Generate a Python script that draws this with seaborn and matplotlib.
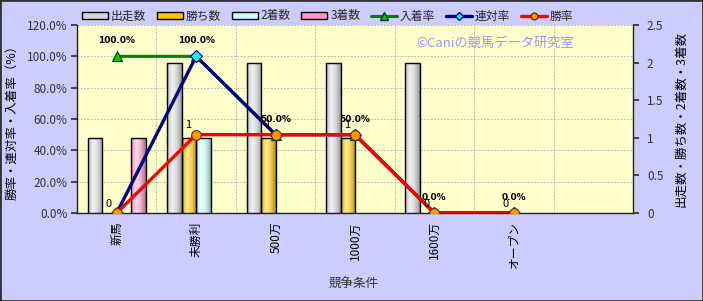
import numpy as np
import pandas as pd
import matplotlib
matplotlib.use("Agg")
import matplotlib.pyplot as plt
import seaborn as sns
from matplotlib.colors import to_rgb
from matplotlib.patches import Patch, Rectangle
from matplotlib.lines import Line2D

# ---- data ----
categories = ['新馬', '未勝利', '500万', '1000万', '1600万', 'オープン']
starts = [1, 2, 2, 2, 2, 0]
wins = [0, 1, 1, 1, 0, 0]
seconds = [0, 1, 0, 0, 0, 0]
thirds = [1, 0, 0, 0, 0, 0]
place_rate = [100, 100, 50, 50, 0, 0]
rentai_rate = [0, 100, 50, 50, 0, 0]
win_rate = [0, 50, 50, 50, 0, 0]
bar_series = ['出走数', '勝ち数', '2着数', '3着数']
left_ticks = [0, 20, 40, 60, 80, 100, 120]
right_ticks = [0, 0.5, 1, 1.5, 2, 2.5]

sns.set_theme(style="white")
plt.rcParams['font.family'] = ['Noto Sans CJK JP', 'DejaVu Sans']

bar_colors = ['#d8d8d8', '#ffc800', '#c8ffff', '#ff99cc']

fig = plt.figure(figsize=(7.03, 3.01), dpi=100)
fig.patch.set_facecolor('#ccccff')
ax = fig.add_axes([77/703, 1-213/301, (633-77)/703, (213-25)/301])
ax.set_facecolor('#ffffcc')
ax2 = ax.twinx()
ax3 = ax.twinx()

df = pd.DataFrame({
    '競争条件': np.repeat(categories, 4),
    'series': bar_series * len(categories),
    'value': np.ravel(np.column_stack([starts, wins, seconds, thirds])),
})
sns.barplot(data=df, x='競争条件', y='value', hue='series', hue_order=bar_series,
            order=categories, palette=bar_colors, width=0.73, gap=0,
            errorbar=None, edgecolor='black', linewidth=1.0, ax=ax2, legend=False)

# cylinder-like shading for bars
def shade(axis, patch, color):
    w, h = patch.get_width(), patch.get_height()
    if h <= 0:
        patch.set_visible(False)
        return
    x0, y0 = patch.get_x(), patch.get_y()
    c = np.array(to_rgb(color))
    t = np.linspace(0, 1, 64)
    k = np.interp(t, [0, 0.35, 1], [0, 1, 0])
    dark = np.interp(t, [0, 0.35, 1], [0.8, 1.0, 0.68])
    base = c[None, :] * dark[:, None]
    light = c * 0.4 + 0.6
    img = base * (1 - k[:, None]) + light[None, :] * k[:, None]
    im = axis.imshow(img[None, :, :], extent=[x0, x0 + w, y0, y0 + h],
                     aspect='auto', interpolation='bilinear', zorder=1.5)
    im.set_clip_path(patch)
    patch.set_facecolor('none')
    patch.set_zorder(2)

n = len(categories)
for i, p in enumerate(list(ax2.patches)):
    shade(ax2, p, bar_colors[i // n])

# lines
sns.pointplot(x=categories, y=place_rate, ax=ax3, color='#008000', markers='^',
              linestyles='-', errorbar=None)
sns.pointplot(x=categories, y=rentai_rate, ax=ax3, color='#000080', markers='D',
              linestyles='-', errorbar=None)
sns.pointplot(x=categories, y=win_rate, ax=ax3, color='#ff0000', markers='o',
              linestyles='-', errorbar=None)
styles = [
    dict(color='#008000', lw=2.2, mfc='#00cc00', mec='#004000', ms=7.5),
    dict(color='#000080', lw=2.4, mfc='#00ffff', mec='#000080', ms=6),
    dict(color='#ff0000', lw=2.4, mfc='#ff9900', mec='#663300', ms=7),
]
for line, st in zip(ax3.lines, styles):
    line.set_color(st['color'])
    line.set_linewidth(st['lw'])
    line.set_markerfacecolor(st['mfc'])
    line.set_markeredgecolor(st['mec'])
    line.set_markersize(st['ms'])
    line.set_markeredgewidth(0.8)

# data labels
for i, v in enumerate(place_rate):
    ax3.annotate(f'{v:.1f}%', (i, v), xytext=(0, 8), textcoords='offset points',
                 ha='center', va='bottom', fontsize=6.5, fontweight='bold',
                 color='black', family='DejaVu Sans')
for i, v in enumerate(wins):
    ax3.annotate(f'{v}', (i, win_rate[i]), xytext=(-6, 3), textcoords='offset points',
                 ha='center', va='bottom', fontsize=8, color='black')

# axes limits and ticks
for a in (ax, ax2, ax3):
    a.set_xlim(-0.5, 6.5)
ax.set_ylim(0, 120)
ax3.set_ylim(0, 120)
ax2.set_ylim(0, 2.5)

ax.set_yticks(left_ticks)
ax.set_yticklabels([f'{v:.1f}%' for v in left_ticks], fontsize=8.5, color='#333333')
ax2.set_yticks(right_ticks)
ax2.set_yticklabels([f'{v:g}' for v in right_ticks], fontsize=8.5, color='#333333')
ax3.set_yticks([])
ax3.set_ylabel('')

ax.set_xticks(range(n))
ax.set_xticklabels(categories, rotation=90, fontsize=8.5, color='black')
ax.set_xticks(np.arange(-0.5, 7, 1), minor=True)
ax.tick_params(axis='x', which='major', length=0, pad=6)
ax.tick_params(axis='x', which='minor', length=4, direction='out', color='#333333')
ax.tick_params(axis='y', length=4, direction='out', color='#333333', pad=3, left=True)
ax2.tick_params(axis='y', length=4, direction='out', color='#333333', pad=6, right=True)
for a in (ax2, ax3):
    a.tick_params(axis='x', which='both', bottom=False, labelbottom=False)
    a.set_xlabel('')

gstyle = dict(color='#a8a8a8', linestyle=(0, (2, 2)), linewidth=0.6)
ax.grid(True, which='major', axis='y', **gstyle)
ax.grid(True, which='minor', axis='x', **gstyle)
ax.grid(False, which='major', axis='x')

for a in (ax, ax2, ax3):
    for s in a.spines.values():
        s.set_visible(False)
for s in ('left', 'bottom', 'right'):
    ax.spines[s].set_visible(True)
    ax.spines[s].set_color('#222222')
    ax.spines[s].set_linewidth(1.0)

ax.set_xlabel('競争条件', fontsize=9, color='#333333')
ax.set_ylabel('勝率・連対率・入着率（%）', fontsize=9, color='black', labelpad=6)
ax2.set_ylabel('出走数・勝ち数・2着数・3着数', fontsize=9, color='black',
               rotation=90, labelpad=8)
ax.xaxis.set_label_coords(0.497, -0.345)

ax.text(0.752, 0.905, '©Caniの競馬データ研究室', transform=ax.transAxes,
        ha='center', va='center', fontsize=9.5, color='#9999ee')

# legend
handles = [Patch(facecolor=c, edgecolor='black', linewidth=1.0) for c in bar_colors]
handles += [Line2D([], [], color=st['color'], lw=st['lw'], marker=m,
                   mfc=st['mfc'], mec=st['mec'], ms=st['ms'] * 0.7)
            for st, m in zip(styles, ['^', 'D', 'o'])]
labels = bar_series + ['入着率', '連対率', '勝率']
fig.legend(handles, labels, loc='center', bbox_to_anchor=(0.466, 1 - 16/301),
           ncol=7, frameon=False, fontsize=8.5, handlelength=2.2, handleheight=0.5,
           columnspacing=0.9, handletextpad=0.25, borderaxespad=0)

fig.add_artist(Rectangle((0, 0), 1, 1, transform=fig.transFigure, fill=False,
                         edgecolor='#333333', linewidth=2))

fig.savefig('out.png', dpi=100, facecolor=fig.get_facecolor())
